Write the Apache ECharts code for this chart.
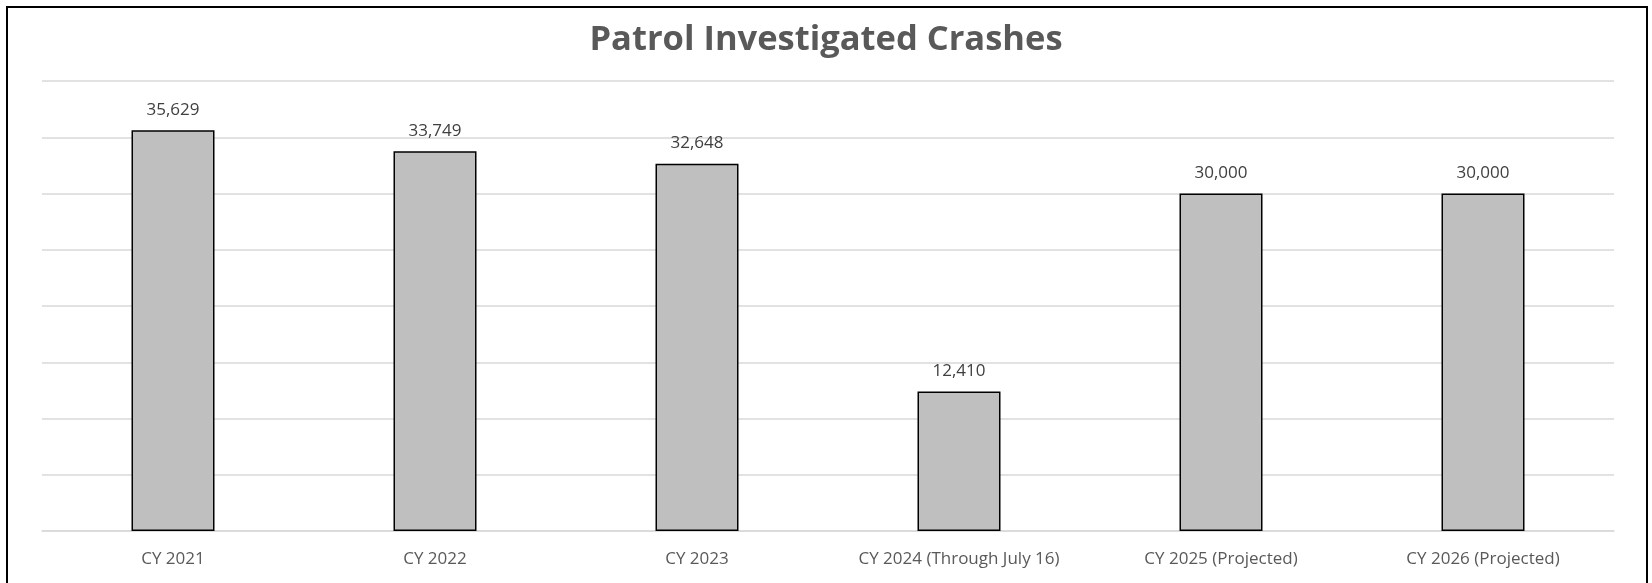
<!DOCTYPE html>
<html>
<head>
<meta charset="utf-8">
<script src="https://cdn.jsdelivr.net/npm/echarts@6/dist/echarts.min.js"></script>
<style>
  html, body { margin: 0; padding: 0; background: #fff; }
  #wrap { position: relative; width: 1652px; height: 583px; overflow: hidden; }
  #frame {
    position: absolute; left: 6px; top: 6px; width: 1642px; height: 600px;
    border: 2px solid #000; box-sizing: border-box;
  }
  #chart { position: absolute; left: 0; top: 0; width: 1652px; height: 583px; }
</style>
</head>
<body>
<div id="wrap">
  <div id="frame"></div>
  <div id="chart"></div>
</div>
<script>
// chart data
const categories = [
  'CY 2021', 'CY 2022', 'CY 2023',
  'CY 2024 (Through July 16)', 'CY 2025 (Projected)', 'CY 2026 (Projected)'
];
const crashes = [35629, 33749, 32648, 12410, 30000, 30000];

const chart = echarts.init(document.getElementById('chart'));
const font = "'Open Sans', 'Noto Sans', sans-serif";

chart.setOption({
  animation: false,
  title: {
    text: 'Patrol Investigated Crashes',
    left: 'center',
    top: 18,
    textStyle: { fontFamily: font, fontSize: 34.5, fontWeight: 'bold', color: '#595959' }
  },
  grid: { left: 42, right: 38, top: 81, bottom: 52, containLabel: false },
  xAxis: {
    type: 'category',
    data: categories,
    axisTick: { show: false },
    axisLine: { lineStyle: { color: '#d9d9d9', width: 1.5 } },
    axisLabel: { fontFamily: font, fontSize: 17, color: '#595959', margin: 20 }
  },
  yAxis: {
    type: 'value',
    min: 0,
    max: 40000,
    interval: 5000,
    axisLabel: { show: false },
    axisLine: { show: false },
    axisTick: { show: false },
    splitLine: { lineStyle: { color: '#d9d9d9', width: 1.5 } }
  },
  series: [{
    type: 'bar',
    data: crashes,
    barWidth: 83,
    itemStyle: { color: '#bfbfbf', borderColor: '#000', borderWidth: 1.5 },
    label: {
      show: true,
      position: 'top',
      distance: 12,
      fontFamily: font,
      fontSize: 17,
      color: '#404040',
      formatter: p => p.value.toLocaleString('en-US')
    }
  }]
});
</script>
</body>
</html>
